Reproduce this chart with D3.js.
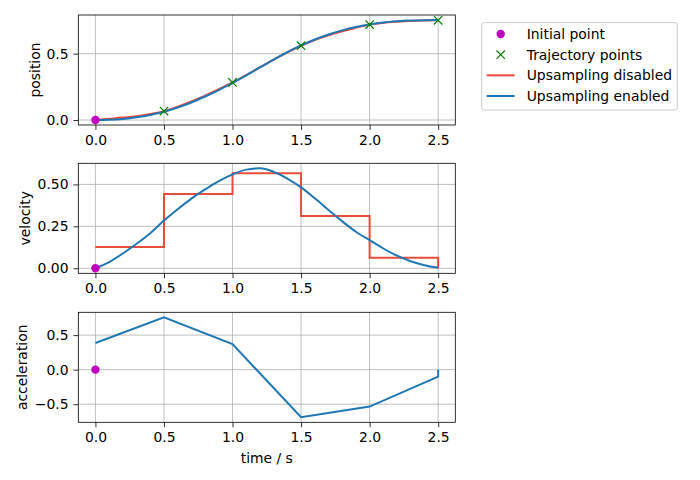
<!DOCTYPE html>
<head>
  <meta charset="utf-8">
  <script src="https://d3js.org/d3.v7.min.js"></script>
  <style>
  *{
    margin:0;
    padding:0;
  }
  body{
    background: #fff;
    font-family: 'DejaVu Sans', sans-serif;
  }
  text{
    font-size: 13.9px;
    fill: #000;
  }
  </style>
</head>
<body>
  <svg id="viz" width="700" height="480"></svg>
  <script>
    // sample times for the upsampled curves
    let times = [0, 0.1, 0.2, 0.3, 0.4, 0.5, 0.6, 0.7, 0.8, 0.9, 1.0, 1.1, 1.2,
                 1.3, 1.4, 1.5, 1.6, 1.7, 1.8, 1.9, 2.0, 2.1, 2.2, 2.3, 2.4, 2.5];

    // waypoints
    let trajTimes = [0.5, 1.0, 1.5, 2.0, 2.5];
    let trajPos = [0.0675, 0.283, 0.56, 0.72, 0.752];

    // upsampling disabled
    let posOff = [0, 0.009, 0.018, 0.029, 0.045, 0.066, 0.100, 0.140, 0.184, 0.232, 0.283,
                  0.339, 0.397, 0.455, 0.510, 0.560, 0.602, 0.638, 0.668, 0.695, 0.720,
                  0.733, 0.741, 0.747, 0.750, 0.752];
    let stepTimes = [0, 0.5, 1.0, 1.5, 2.0, 2.5];
    let velOff = [0.127, 0.443, 0.567, 0.312, 0.063, 0.0];

    // upsampling enabled
    let posOn = [0, 0.002, 0.008, 0.020, 0.038, 0.062, 0.094, 0.132, 0.177, 0.226, 0.280,
                 0.337, 0.397, 0.455, 0.511, 0.562, 0.607, 0.645, 0.676, 0.701, 0.720,
                 0.735, 0.744, 0.750, 0.753, 0.754];
    let velOn = [0, 0.037, 0.088, 0.146, 0.209, 0.285, 0.352, 0.415, 0.470, 0.520, 0.560,
                 0.588, 0.596, 0.575, 0.535, 0.482, 0.417, 0.348, 0.280, 0.218, 0.168,
                 0.118, 0.075, 0.042, 0.018, 0.003];
    let accTimes = [0, 0.5, 1.0, 1.5, 2.0, 2.5, 2.5];
    let accOn = [0.385, 0.758, 0.37, -0.69, -0.535, -0.10, 0.0];

    let xTicks = [0, 0.5, 1.0, 1.5, 2.0, 2.5];

    let svg = d3.select("svg");
    let left = 78.3, right = 455.3, ph = 110;
    let tops = [15, 163.3, 312.3];
    let red = "#e74c3c", blue = "#1f77b4", mag = "#bf00bf", grn = "#008000";
    let lw = 2;

    // matplotlib style 5% margins
    let pad = (lo, hi) => [lo - (hi - lo) * 0.05, hi + (hi - lo) * 0.05];

    let x = d3.scaleLinear().domain(pad(0, 2.5)).range([left, right]);

    let panel = (top, yDomain, yTicks, fmt, label, labelX) => {
      let y = d3.scaleLinear().domain(yDomain).range([top + ph, top]);
      let g = svg.append("g");

      //grid
      g.selectAll("line.gx").data(xTicks).enter().append("line")
        .attr("x1", d => x(d)).attr("x2", d => x(d))
        .attr("y1", top).attr("y2", top + ph)
        .attr("stroke", "#b0b0b0").attr("stroke-width", 0.8);
      g.selectAll("line.gy").data(yTicks).enter().append("line")
        .attr("x1", left).attr("x2", right)
        .attr("y1", d => y(d)).attr("y2", d => y(d))
        .attr("stroke", "#b0b0b0").attr("stroke-width", 0.8);

      //axes
      let ax = g.append("g").attr("transform", `translate(0,${top + ph})`)
        .call(d3.axisBottom(x).tickValues(xTicks).tickFormat(d3.format(".1f"))
          .tickSize(4.9).tickPadding(4.9).tickSizeOuter(0));
      let ay = g.append("g").attr("transform", `translate(${left},0)`)
        .call(d3.axisLeft(y).tickValues(yTicks).tickFormat(d => d3.format(fmt)(d).replace("-", "\u2212"))
          .tickSize(4.9).tickPadding(4.9).tickSizeOuter(0));
      [ax, ay].forEach(a => {
        a.select(".domain").remove();
        a.selectAll("line").attr("stroke", "#000").attr("stroke-width", 0.8);
        a.selectAll("text").attr("font-size", "13.9px").attr("font-family", "DejaVu Sans").attr("fill", "#000");
      });

      g.append("text")
        .attr("transform", `translate(${labelX},${top + ph / 2}) rotate(-90)`)
        .attr("text-anchor", "middle")
        .attr("dominant-baseline", "central")
        .text(label);

      return {g, y};
    };

    let frame = (top) => svg.append("rect")
      .attr("x", left).attr("y", top).attr("width", right - left).attr("height", ph)
      .attr("fill", "none").attr("stroke", "#000").attr("stroke-width", 0.8);

    let line = (y, curve) => d3.line().x(d => x(d[0])).y(d => y(d[1])).curve(curve);

    let dot = (g, y) => g.append("circle")
      .attr("cx", x(0)).attr("cy", y(0)).attr("r", 4.2).attr("fill", mag);

    //position
    let p1 = panel(tops[0], pad(0, d3.max(posOn)), [0, 0.5], ".1f", "position", 35);
    p1.g.append("path").datum(times.map((t, i) => [t, posOff[i]]))
      .attr("d", line(p1.y, d3.curveMonotoneX))
      .attr("fill", "none").attr("stroke", red).attr("stroke-width", lw);
    p1.g.append("path").datum(times.map((t, i) => [t, posOn[i]]))
      .attr("d", line(p1.y, d3.curveMonotoneX))
      .attr("fill", "none").attr("stroke", blue).attr("stroke-width", lw);
    dot(p1.g, p1.y);
    let xs = p1.g.selectAll("g.xm").data(trajTimes).enter().append("g")
      .attr("transform", (d, i) => `translate(${x(d)},${p1.y(trajPos[i])})`);
    xs.append("path").attr("d", "M-4.2,-4.2L4.2,4.2M-4.2,4.2L4.2,-4.2")
      .attr("stroke", grn).attr("stroke-width", 1.2);
    frame(tops[0]);

    //velocity
    let p2 = panel(tops[1], pad(0, d3.max(velOn)), [0, 0.25, 0.5], ".2f", "velocity", 25);
    p2.g.append("path").datum(stepTimes.map((t, i) => [t, velOff[i]]))
      .attr("d", line(p2.y, d3.curveStepAfter))
      .attr("fill", "none").attr("stroke", red).attr("stroke-width", lw);
    p2.g.append("path").datum(times.map((t, i) => [t, velOn[i]]))
      .attr("d", line(p2.y, d3.curveMonotoneX))
      .attr("fill", "none").attr("stroke", blue).attr("stroke-width", lw);
    dot(p2.g, p2.y);
    frame(tops[1]);

    //acceleration
    let p3 = panel(tops[2], pad(d3.min(accOn), d3.max(accOn)), [-0.5, 0, 0.5], ".1f", "acceleration", 22);
    p3.g.append("path").datum(accTimes.map((t, i) => [t, accOn[i]]))
      .attr("d", line(p3.y, d3.curveLinear))
      .attr("fill", "none").attr("stroke", blue).attr("stroke-width", lw);
    dot(p3.g, p3.y);
    frame(tops[2]);

    svg.append("text")
      .attr("x", (left + right) / 2).attr("y", 463)
      .attr("text-anchor", "middle")
      .text("time / s");

    //legend
    let leg = svg.append("g").attr("transform", "translate(481.7,22.7)");
    leg.append("rect").attr("width", 195.6).attr("height", 87.3).attr("rx", 2.5)
      .attr("fill", "#fff").attr("fill-opacity", 0.8)
      .attr("stroke", "#ccc").attr("stroke-width", 1);
    let items = ["Initial point", "Trajectory points", "Upsampling disabled", "Upsampling enabled"];
    let iy = d3.scalePoint().domain(items).range([11.3, 73.3]);
    items.forEach((name, i) => {
      let row = leg.append("g").attr("transform", `translate(0,${iy(name)})`);
      if (i === 0) row.append("circle").attr("cx", 19).attr("r", 4.2).attr("fill", mag);
      if (i === 1) row.append("path").attr("d", "M14.8,-4.2L23.2,4.2M14.8,4.2L23.2,-4.2")
        .attr("stroke", grn).attr("stroke-width", 1.2);
      if (i > 1) row.append("line").attr("x1", 5).attr("x2", 33)
        .attr("stroke", i === 2 ? red : blue).attr("stroke-width", lw);
      row.append("text").attr("x", 45).attr("dy", "0.35em").text(name);
    });
  </script>
</body>
